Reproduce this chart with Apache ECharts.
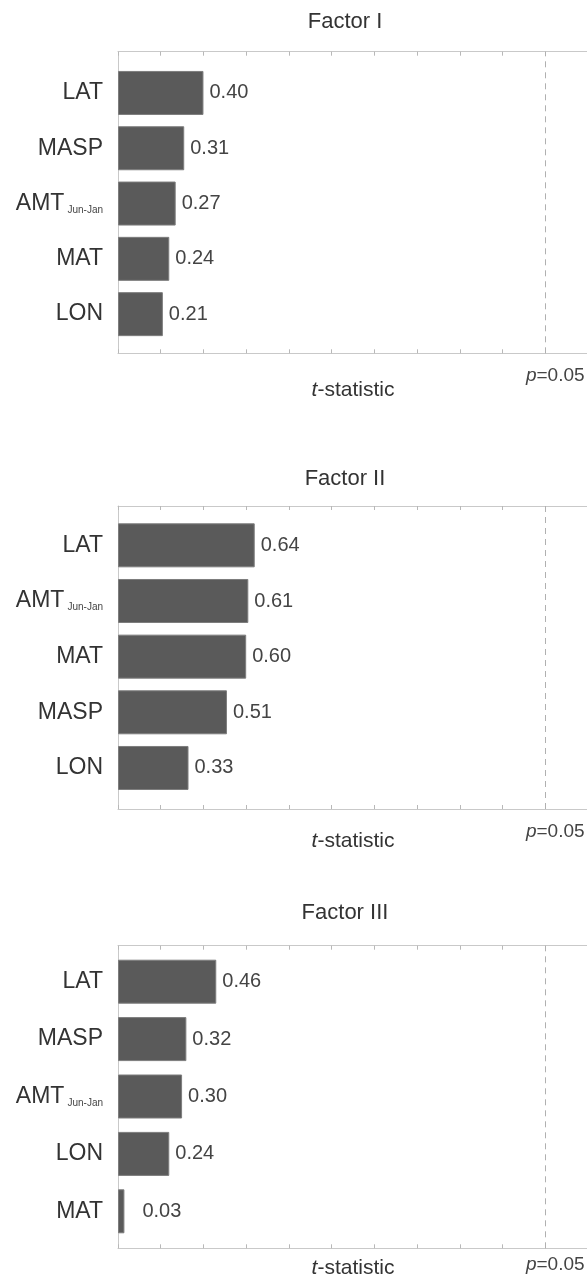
<!DOCTYPE html>
<html>
<head>
<meta charset="utf-8">
<title>Factor loadings – t-statistics</title>
<script src="https://cdn.jsdelivr.net/npm/echarts@6/dist/echarts.min.js"></script>
<style>
  html, body { margin: 0; padding: 0; background: #fff; }
  #chart { width: 587px; height: 1279px; }
</style>
</head>
<body>
<div id="chart"></div>
<script>
// Panel titles
const factorTitles = ['Factor I', 'Factor II', 'Factor III'];

// Variables (top to bottom) and their t-statistics for each factor
const factor1Vars = ['LAT', 'MASP', 'AMT', 'MAT', 'LON'];
const factor1Vals = [0.40, 0.31, 0.27, 0.24, 0.21];

const factor2Vars = ['LAT', 'AMT', 'MAT', 'MASP', 'LON'];
const factor2Vals = [0.64, 0.61, 0.60, 0.51, 0.33];

const factor3Vars = ['LAT', 'MASP', 'AMT', 'LON', 'MAT'];
const factor3Vals = [0.46, 0.32, 0.30, 0.24, 0.03];

// t-statistic axis and the significance threshold
const tAxisMin = 0;
const tAxisMax = 2.2;
const tAxisStep = 0.2;
const criticalT = 2.0;
const criticalP = '0.05';
const axisTitleRest = '-statistic';

const panels = [
  { title: factorTitles[0], vars: factor1Vars, vals: factor1Vals },
  { title: factorTitles[1], vars: factor2Vars, vals: factor2Vals },
  { title: factorTitles[2], vars: factor3Vars, vals: factor3Vals }
];

// layout of each panel: frame box, band where the bars sit, title line,
// gaps of the threshold label and the axis title below the frame
const layout = [
  { frameTop: 51.7, frameBottom: 353.3, bandTop: 65.3, bandBottom: 341.8, titleY: 22, pGap: 13, nameGap: 26 },
  { frameTop: 506, frameBottom: 809, bandTop: 517.5, bandBottom: 795.8, titleY: 479, pGap: 13, nameGap: 22 },
  { frameTop: 945.7, frameBottom: 1248.3, bandTop: 953, bandBottom: 1240, titleY: 913, pGap: 7, nameGap: 9 }
];

const FONT = '"Liberation Sans", Arial, Helvetica, sans-serif';
const LEFT = 118;
const FRAME_COLOR = '#c9c9c9';
const TICK_COLOR = '#b8b8b8';

const grid = [], xAxis = [], yAxis = [], series = [], graphic = [];

panels.forEach((p, i) => {
  const L = layout[i];
  const frameIdx = grid.length;
  grid.push({ left: LEFT, right: -1, top: L.frameTop, height: L.frameBottom - L.frameTop, outerBoundsMode: 'none', containLabel: false });
  const barIdx = grid.length;
  grid.push({ left: LEFT, right: -1, top: L.bandTop, height: L.bandBottom - L.bandTop, outerBoundsMode: 'none', containLabel: false });

  // frame: bottom axis (threshold label + axis title)
  const xBottom = xAxis.length;
  xAxis.push({
    gridIndex: frameIdx, type: 'value', position: 'bottom',
    min: tAxisMin, max: tAxisMax, interval: tAxisStep,
    axisLine: { show: true, lineStyle: { color: FRAME_COLOR, width: 1 } },
    axisTick: { show: true, inside: true, length: 4, lineStyle: { color: TICK_COLOR } },
    splitLine: { show: false },
    axisLabel: {
      show: true, margin: L.pGap, fontFamily: FONT, fontSize: 19, color: '#444',
      showMinLabel: true, showMaxLabel: true, hideOverlap: false,
      padding: [0, 0, 0, 20],
      formatter: v => Math.abs(v - criticalT) < 1e-9 ? '{i|p}=' + criticalP : '',
      rich: { i: { fontStyle: 'italic', fontFamily: FONT, fontSize: 19, color: '#444' } }
    },
    name: '{i|t}' + axisTitleRest,
    nameLocation: 'middle', nameGap: L.nameGap, nameMoveOverlap: false,
    nameTextStyle: {
      fontFamily: FONT, fontSize: 21, color: '#333',
      rich: { i: { fontStyle: 'italic', fontFamily: FONT, fontSize: 21, color: '#333' } }
    }
  });
  // frame: top axis with inward ticks
  xAxis.push({
    gridIndex: frameIdx, type: 'value', position: 'top',
    min: tAxisMin, max: tAxisMax, interval: tAxisStep,
    axisLine: { show: true, lineStyle: { color: FRAME_COLOR, width: 1 } },
    axisTick: { show: true, inside: true, length: 4, lineStyle: { color: TICK_COLOR } },
    splitLine: { show: false }, axisLabel: { show: false }
  });
  yAxis.push({
    gridIndex: frameIdx, type: 'value', min: 0, max: 1,
    axisLine: { show: true, lineStyle: { color: FRAME_COLOR, width: 1 } },
    axisTick: { show: false }, axisLabel: { show: false }, splitLine: { show: false }
  });
  // dashed threshold line
  series.push({
    type: 'line', xAxisIndex: xBottom, yAxisIndex: yAxis.length - 1, data: [],
    silent: true,
    markLine: {
      silent: true, symbol: 'none', label: { show: false },
      lineStyle: { type: [6, 5], color: '#b0b0b0', width: 1 },
      data: [{ xAxis: criticalT }]
    }
  });

  // bars
  const xBar = xAxis.length;
  xAxis.push({ gridIndex: barIdx, type: 'value', min: tAxisMin, max: tAxisMax, show: false });
  const yBar = yAxis.length;
  yAxis.push({
    gridIndex: barIdx, type: 'category', inverse: true, data: p.vars,
    axisLine: { show: false }, axisTick: { show: false }, splitLine: { show: false },
    axisLabel: {
      margin: 15, fontFamily: FONT, fontSize: 23, color: '#333',
      formatter: v => v === 'AMT' ? '{b|AMT}{s|Jun-Jan}' : '{b|' + v + '}',
      rich: {
        b: { fontFamily: FONT, fontSize: 23, color: '#333' },
        s: { fontFamily: FONT, fontSize: 10, color: '#444', verticalAlign: 'bottom', padding: [0, 0, 0, 3] }
      }
    }
  });
  series.push({
    type: 'bar', xAxisIndex: xBar, yAxisIndex: yBar,
    barWidth: 44,
    data: p.vals.map(v => ({
      value: v,
      label: { distance: v < 0.1 ? 18 : 6 }
    })),
    itemStyle: { color: '#5a5a5a', borderColor: '#7d7d7d', borderWidth: 1 },
    label: {
      show: true, position: 'right', fontFamily: FONT, fontSize: 20, color: '#444',
      formatter: d => d.value.toFixed(2)
    },
    silent: true, animation: false
  });

  graphic.push({
    type: 'text', x: 345, y: L.titleY,
    style: { text: p.title, fontFamily: FONT, fontSize: 22, fill: '#333', align: 'center', verticalAlign: 'middle' }
  });
});

const chart = echarts.init(document.getElementById('chart'), null, { renderer: 'canvas' });
chart.setOption({
  animation: false,
  backgroundColor: '#ffffff',
  grid, xAxis, yAxis, series, graphic
});
</script>
</body>
</html>
